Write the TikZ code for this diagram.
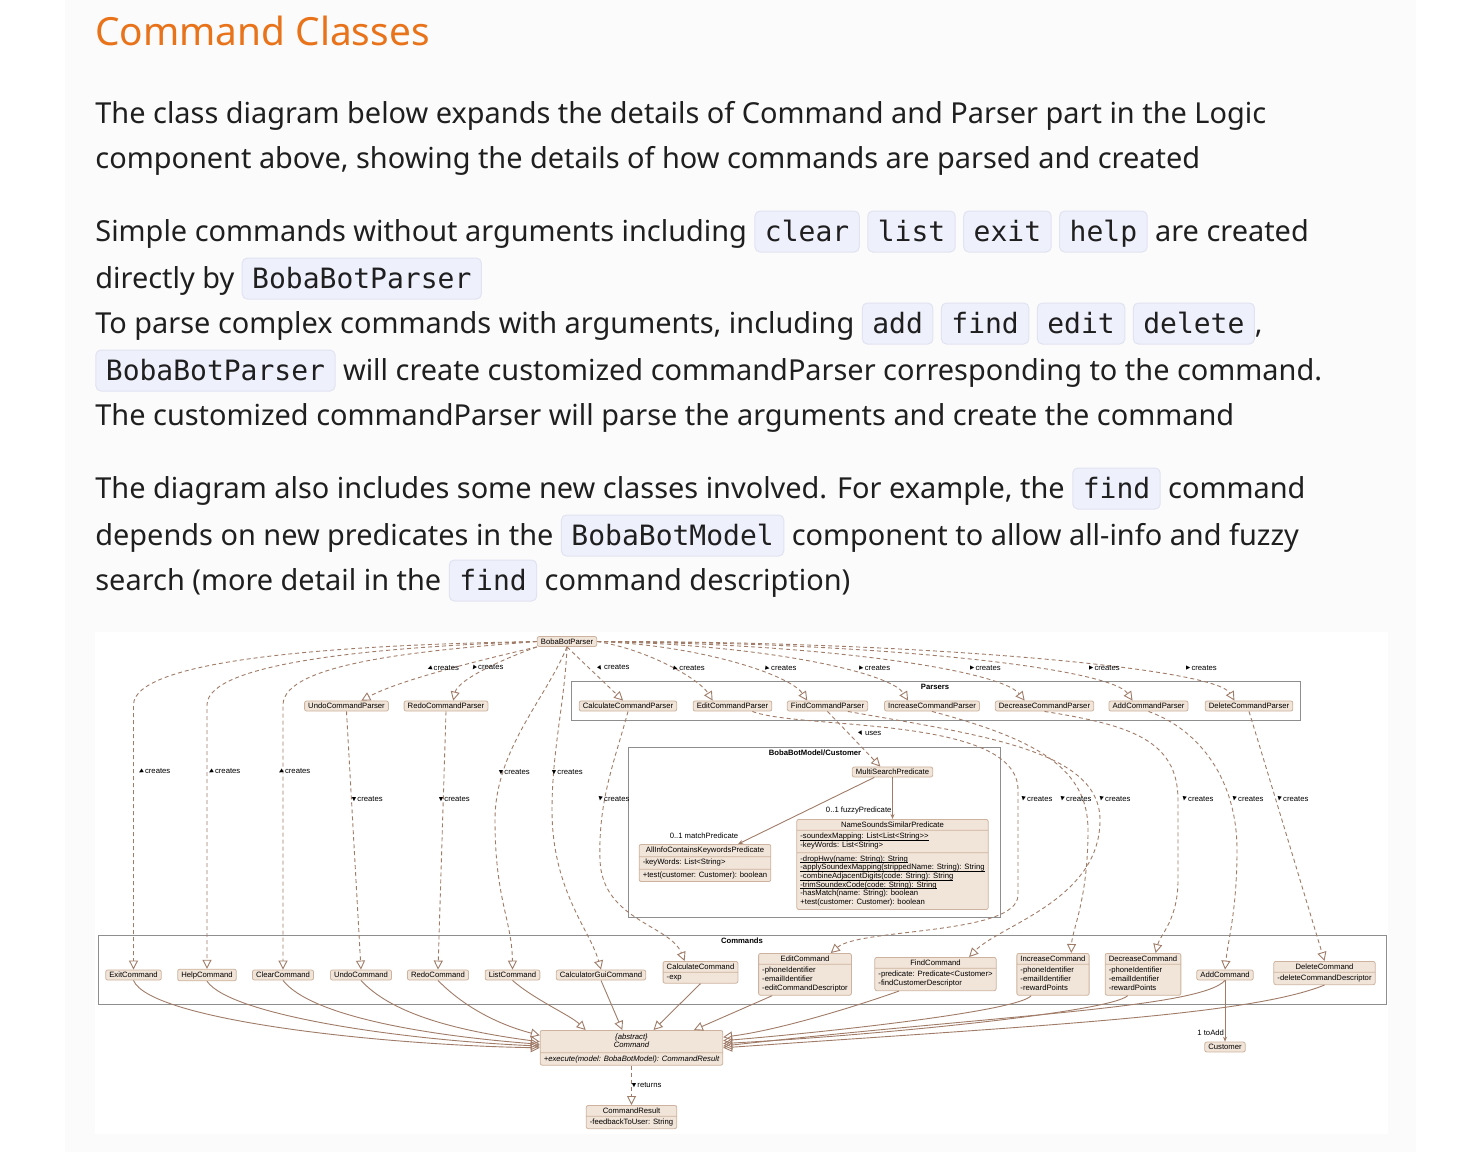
\documentclass[tikz,border=0pt]{standalone}
\usepackage{fontspec}
\setmainfont{Noto Sans}
\setmonofont{DejaVu Sans Mono}
\newfontfamily\diagfont{Liberation Sans}
\newfontfamily\markfont{DejaVu Sans}
\usepackage{xcolor}
\usetikzlibrary{positioning, arrows.meta, shapes.multipart, calc}

\definecolor{pagebg}{HTML}{FBFBFB}
\definecolor{headcol}{HTML}{E8731A}
\definecolor{bodycol}{HTML}{1F1F1F}
\definecolor{codefill}{HTML}{EEF0FC}
\definecolor{codeline}{HTML}{E1E3F0}
\definecolor{clsfill}{HTML}{F1E4D8}
\definecolor{clsline}{HTML}{CDB39F}
\definecolor{arrcol}{HTML}{A07C68}
\definecolor{pkgline}{HTML}{8E8E8E}

\newcommand\diag{\diagfont\fontsize{3.85}{4.3}\selectfont}
\newcommand\mk[1]{\raisebox{0.2pt}{\rotatebox[origin=c]{#1}{\markfont\fontsize{2.8}{2.8}\selectfont ▶}}\hspace{0.6pt}}
\newsavebox\statbox
\newcommand\stat[1]{\sbox\statbox{#1}\rlap{\usebox\statbox}\rule[-0.75pt]{\wd\statbox}{0.2pt}}
\tikzset{codebox/.style={draw=codeline, fill=codefill, rounded corners=2.5pt, line width=0.5pt,
    inner xsep=5pt, inner ysep=0pt, text height=15pt, text depth=5.5pt, font=\ttfamily\fontsize{14}{17}\selectfont}}
\newcommand\code[1]{\tikz[baseline=(cb.base)]\node[codebox] (cb) {#1};}

\begin{document}
\begin{tikzpicture}[
    x=0.5pt, y=-0.5pt,
    txt/.style={anchor=base west, inner sep=0pt, font=\fontsize{14.45}{17}\selectfont, text=bodycol},
    cls/.style={draw=clsline, fill=clsfill, rounded corners=1pt, line width=0.4pt, inner xsep=1.8pt, inner ysep=1.1pt, font=\diag},
    mcls/.style={cls, rectangle split, rectangle split parts=2, rectangle split part align={center,left,left}, rectangle split draw splits=true, anchor=north},
    pkg/.style={draw=pkgline, line width=0.45pt},
    ptitle/.style={font=\diag\bfseries, inner sep=0pt},
    crt/.style={draw=arrcol, line width=0.45pt, dash pattern=on 2pt off 1.5pt, -{Triangle[open, length=4.5pt, width=4.5pt]}},
    gen/.style={draw=arrcol, line width=0.45pt, -{Triangle[open, length=4.5pt, width=4.5pt]}},
    asc/.style={draw=arrcol, line width=0.45pt, -{Stealth[length=2.5pt, width=2pt]}},
    lbl/.style={font=\diag, inner sep=0.3pt}
]
    \useasboundingbox (0,0) rectangle (1466,1152);
    \fill[white] (0,0) rectangle (1466,1152);
    \fill[pagebg] (65,0) rectangle (1416,1152);
    \fill[white] (95,632) rectangle (1388,1134);

    % page text
    \node[anchor=base west, inner sep=0pt, font=\fontsize{19.4}{23}\selectfont, text=headcol] (head) at (95,45) {Command Classes};
    \node[txt] (p1a) at (95,123) {The class diagram below expands the details of Command and Parser part in the Logic};
    \node[txt] (p1b) at (95,168) {component above, showing the details of how commands are parsed and created};
    \node[txt] (p2a) at (95,241) {Simple commands without arguments including \code{clear} \code{list} \code{exit} \code{help} are created};
    \node[txt] (p2b) at (95,288) {directly by \code{BobaBotParser}};
    \node[txt] (p2c) at (95,333) {To parse complex commands with arguments, including \code{add} \code{find} \code{edit} \code{delete},};
    \node[txt] (p2d) at (95,380) {\code{BobaBotParser} will create customized commandParser corresponding to the command.};
    \node[txt] (p2e) at (95,425) {The customized commandParser will parse the arguments and create the command};
    \node[txt] (p3a) at (95,498) {The diagram also includes some new classes involved. For example, the \code{find} command};
    \node[txt] (p3b) at (95,545) {depends on new predicates in the \code{BobaBotModel} component to allow all-info and fuzzy};
    \node[txt] (p3c) at (95,590) {search (more detail in the \code{find} command description)};

    % packages
    \draw[pkg] (571,681) rectangle (1300,720);
    \node[ptitle] (parsers) at (935,687) {Parsers};
    \draw[pkg] (628,747) rectangle (1000,917);
    \node[ptitle] (modelpkg) at (815,752.5) {BobaBotModel/Customer};
    \draw[pkg] (98,935) rectangle (1386,1004);
    \node[ptitle] (cmdpkg) at (742,940.5) {Commands};

    % parsers
    \node[cls] (bbp) at (567,641.5) {BobaBotParser};
    \node[cls] (undop) at (346.5,706) {UndoCommandParser};
    \node[cls] (redop) at (446,706) {RedoCommandParser};
    \node[cls] (calcp) at (628,706) {CalculateCommandParser};
    \node[cls] (editp) at (732.5,706) {EditCommandParser};
    \node[cls] (findp) at (827.5,706) {FindCommandParser};
    \node[cls] (incp) at (932,706) {IncreaseCommandParser};
    \node[cls] (decp) at (1044.5,706) {DecreaseCommandParser};
    \node[cls] (addp) at (1148.5,706) {AddCommandParser};
    \node[cls] (delp) at (1249,706) {DeleteCommandParser};

    % model
    \node[cls] (msp) at (892.5,772) {MultiSearchPredicate};
    \node[mcls, rectangle split parts=3] (nssp) at (892.5,819) {NameSoundsSimilarPredicate
        \nodepart{two}\begin{tabular}{@{}l@{}}\stat{-soundexMapping: List<List<String>{}>}\\-keyWords: List<String>\end{tabular}
        \nodepart{three}\begin{tabular}{@{}l@{}}\stat{-dropHwy(name: String): String}\\\stat{-applySoundexMapping(strippedName: String): String}\\
        \stat{-combineAdjacentDigits(code: String): String}\\\stat{-trimSoundexCode(code: String): String}\\
        -hasMatch(name: String): boolean\\+test(customer: Customer): boolean\end{tabular}};
    \node[mcls, rectangle split parts=3] (aicp) at (705,844) {AllInfoContainsKeywordsPredicate
        \nodepart{two}-keyWords: List<String>\nodepart{three}+test(customer: Customer): boolean};

    % commands
    \node[cls] (exitc) at (133.5,975) {ExitCommand};
    \node[cls] (helpc) at (207,975) {HelpCommand};
    \node[cls] (clearc) at (283,975) {ClearCommand};
    \node[cls] (undoc) at (361,975) {UndoCommand};
    \node[cls] (redoc) at (438,975) {RedoCommand};
    \node[cls] (listc) at (512.5,975) {ListCommand};
    \node[cls] (cguic) at (601,975) {CalculatorGuiCommand};
    \node[mcls] (calcc) at (700.5,961) {CalculateCommand\nodepart{two}-exp};
    \node[mcls] (editc) at (805,953) {EditCommand
        \nodepart{two}\begin{tabular}{@{}l@{}}-phoneIdentifier\\-emailIdentifier\\-editCommandDescriptor\end{tabular}};
    \node[mcls] (findc) at (935.5,957) {FindCommand
        \nodepart{two}\begin{tabular}{@{}l@{}}-predicate: Predicate<Customer>\\-findCustomerDescriptor\end{tabular}};
    \node[mcls] (incc) at (1053,953) {IncreaseCommand
        \nodepart{two}\begin{tabular}{@{}l@{}}-phoneIdentifier\\-emailIdentifier\\-rewardPoints\end{tabular}};
    \node[mcls] (decc) at (1143,953) {DecreaseCommand
        \nodepart{two}\begin{tabular}{@{}l@{}}-phoneIdentifier\\-emailIdentifier\\-rewardPoints\end{tabular}};
    \node[cls] (addc) at (1225,975) {AddCommand};
    \node[mcls] (delc) at (1324.5,961) {DeleteCommand\nodepart{two}-deleteCommandDescriptor};
    \node[mcls] (absc) at (631.5,1030) {\begin{tabular}{@{}c@{}}\itshape\{abstract\}\\\itshape Command\end{tabular}
        \nodepart{two}\itshape +execute(model: BobaBotModel): CommandResult};
    \node[mcls] (cres) at (631.5,1105) {CommandResult\nodepart{two}-feedbackToUser: String};
    \node[cls] (cust) at (1225,1047) {Customer};

    % BobaBotParser creates
    \draw[crt] (bbp.west) .. controls (330,645) and (133.5,660) .. (133.5,705) -- (exitc.north);
    \draw[crt] (bbp.west) .. controls (380,647) and (207,662) .. (207,705) -- (helpc.north);
    \draw[crt] (bbp.west) .. controls (430,650) and (283,662) .. (283,705) -- (clearc.north);
    \draw[crt] (bbp.south west) .. controls (480,660) and (400,680) .. ($(undop.north)!0.35!(undop.north east)$);
    \draw[crt] (bbp.south west) .. controls (500,660) and (458,680) .. ($(redop.north)!0.17!(redop.north east)$);
    \draw[crt] (bbp.south) .. controls (545,700) and (495,750) .. (495,820) .. controls (495,900) and (512,920) .. (listc.north);
    \draw[crt] (bbp.south) .. controls (565,700) and (552,750) .. (552,810) .. controls (552,890) and (590,930) .. (cguic.north);
    \draw[crt] (bbp.south) -- ($(calcp.north)!0.1!(calcp.north west)$);
    \draw[crt] (bbp.east) .. controls (650,650) and (700,680) .. ($(editp.north)!0.5!(editp.north west)$);
    \draw[crt] (bbp.east) .. controls (700,645) and (790,675) .. ($(findp.north)!0.5!(findp.north west)$);
    \draw[crt] (bbp.east) .. controls (760,644) and (890,672) .. ($(incp.north)!0.5!(incp.north west)$);
    \draw[crt] (bbp.east) .. controls (820,643) and (1000,670) .. ($(decp.north)!0.4!(decp.north west)$);
    \draw[crt] (bbp.east) .. controls (880,642) and (1110,668) .. ($(addp.north)!0.4!(addp.north west)$);
    \draw[crt] (bbp.east) .. controls (920,641) and (1215,668) .. ($(delp.north)!0.33!(delp.north west)$);

    % parsers create commands
    \draw[crt] (undop.south) -- (undoc.north);
    \draw[crt] (redop.south) -- (redoc.north);
    \draw[crt] (calcp.south) .. controls (615,760) and (598,800) .. (600,860) .. controls (602,920) and (670,925) .. ($(calcc.north)!0.42!(calcc.north west)$);
    \draw[crt] ($(editp.south)!0.5!(editp.south east)$) .. controls (800,730) and (1018,715) .. (1018,790) -- (1018,895) .. controls (1018,935) and (860,928) .. ($(editc.north)!0.55!(editc.north east)$);
    \draw[crt] ($(findp.south)!0.5!(findp.south east)$) .. controls (980,735) and (1100,750) .. (1100,820) .. controls (1100,900) and (1000,925) .. ($(findc.north)!0.55!(findc.north east)$);
    \draw[crt] (incp.south) .. controls (1040,740) and (1088,770) .. (1088,830) .. controls (1088,900) and (1072,930) .. ($(incc.north)!0.5!(incc.north east)$);
    \draw[crt] (decp.south) .. controls (1130,725) and (1178,740) .. (1178,800) -- (1178,880) .. controls (1178,920) and (1160,935) .. ($(decc.north)!0.33!(decc.north east)$);
    \draw[crt] (addp.south) .. controls (1200,730) and (1237,780) .. (1237,850) .. controls (1237,910) and (1228,940) .. (addc.north);
    \draw[crt] (delp.south) .. controls (1270,780) and (1300,880) .. (delc.north);
    \draw[crt] (findp.south) -- ($(msp.north)!0.3!(msp.north west)$);
    \draw[crt] (absc.south) -- (cres.north);

    % generalisations
    \draw[gen] (exitc.south) .. controls (150,1020) and (380,1045) .. ($(absc.north west)!0.5!(absc.south west)$);
    \draw[gen] (helpc.south) .. controls (230,1015) and (400,1040) .. ($(absc.north west)!0.45!(absc.south west)$);
    \draw[gen] (clearc.south) .. controls (310,1015) and (420,1035) .. ($(absc.north west)!0.4!(absc.south west)$);
    \draw[gen] (undoc.south) .. controls (390,1012) and (450,1030) .. ($(absc.north west)!0.33!(absc.south west)$);
    \draw[gen] (redoc.south) .. controls (465,1008) and (500,1025) .. ($(absc.north west)!0.15!(absc.south west)$);
    \draw[gen] (listc.south) .. controls (535,1000) and (570,1015) .. ($(absc.north west)!0.25!(absc.north east)$);
    \draw[gen] (cguic.south) -- ($(absc.north west)!0.45!(absc.north east)$);
    \draw[gen] (calcc.south) -- ($(absc.north west)!0.62!(absc.north east)$);
    \draw[gen] ($(editc.south)!0.7!(editc.south west)$) -- ($(absc.north west)!0.84!(absc.north east)$);
    \draw[gen] ($(findc.south)!0.6!(findc.south west)$) .. controls (860,1005) and (780,1030) .. ($(absc.north east)!0.2!(absc.south east)$);
    \draw[gen] ($(incc.south)!0.6!(incc.south west)$) .. controls (1020,1010) and (850,1030) .. ($(absc.north east)!0.3!(absc.south east)$);
    \draw[gen] ($(decc.south)!0.4!(decc.south west)$) .. controls (1110,1012) and (880,1035) .. ($(absc.north east)!0.38!(absc.south east)$);
    \draw[gen] (addc.south) .. controls (1200,1008) and (1000,1015) .. ($(absc.north east)!0.45!(absc.south east)$);
    \draw[gen] (delc.south) .. controls (1250,1015) and (1050,1025) .. ($(absc.north east)!0.5!(absc.south east)$);

    % associations
    \draw[asc] (msp.south) -- node[lbl, pos=0.8, anchor=east] (fz) {0..1 fuzzyPredicate} (nssp.north);
    \draw[asc] ($(msp.south)!0.45!(msp.south west)$) -- ($(aicp.north)!0.5!(aicp.north east)$);
    \node[lbl] (mp) at (704,836) {0..1 matchPredicate};
    \draw[asc] (addc.south) -- node[lbl, pos=0.85, anchor=east] (ta) {1 toAdd} (cust.north);

    % labels
    \node[lbl, anchor=west] (c1) at (426,668) {\mk{200}creates};
    \node[lbl, anchor=west] (c2) at (470,668) {\mk{235}creates};
    \node[lbl, anchor=west] (c3) at (596,668) {\mk{-55}creates};
    \node[lbl, anchor=west] (c4) at (672,668) {\mk{-15}creates};
    \node[lbl, anchor=west] (c5) at (764,668) {\mk{-10}creates};
    \node[lbl, anchor=west] (c6) at (858,668) {\mk{-5}creates};
    \node[lbl, anchor=west] (c7) at (969,668) {\mk{0}creates};
    \node[lbl, anchor=west] (c8) at (1088,668) {\mk{0}creates};
    \node[lbl, anchor=west] (c9) at (1185,668) {\mk{0}creates};
    \node[lbl, anchor=west] (c10) at (137,772) {\mk{210}creates};
    \node[lbl, anchor=west] (c11) at (207,772) {\mk{210}creates};
    \node[lbl, anchor=west] (c12) at (277,772) {\mk{210}creates};
    \node[lbl, anchor=west] (c13) at (498,772) {\mk{-90}creates};
    \node[lbl, anchor=west] (c14) at (551,772) {\mk{-90}creates};
    \node[lbl, anchor=west] (c15) at (351,799) {\mk{-90}creates};
    \node[lbl, anchor=west] (c16) at (438,799) {\mk{-90}creates};
    \node[lbl, anchor=west] (c17) at (597,799) {\mk{-100}creates};
    \node[lbl, anchor=west] (c18) at (1020,799) {\mk{-100}creates};
    \node[lbl, anchor=west] (c19) at (1059,799) {\mk{-100}creates};
    \node[lbl, anchor=west] (c20) at (1098,799) {\mk{-100}creates};
    \node[lbl, anchor=west] (c21) at (1181,799) {\mk{-100}creates};
    \node[lbl, anchor=west] (c22) at (1231,799) {\mk{-100}creates};
    \node[lbl, anchor=west] (c23) at (1276,799) {\mk{-100}creates};
    \node[lbl, anchor=west] (us) at (857,734) {\mk{-60}uses};
    \node[lbl, anchor=west] (rt) at (631,1085) {\mk{-90}returns};
\end{tikzpicture}
\end{document}
